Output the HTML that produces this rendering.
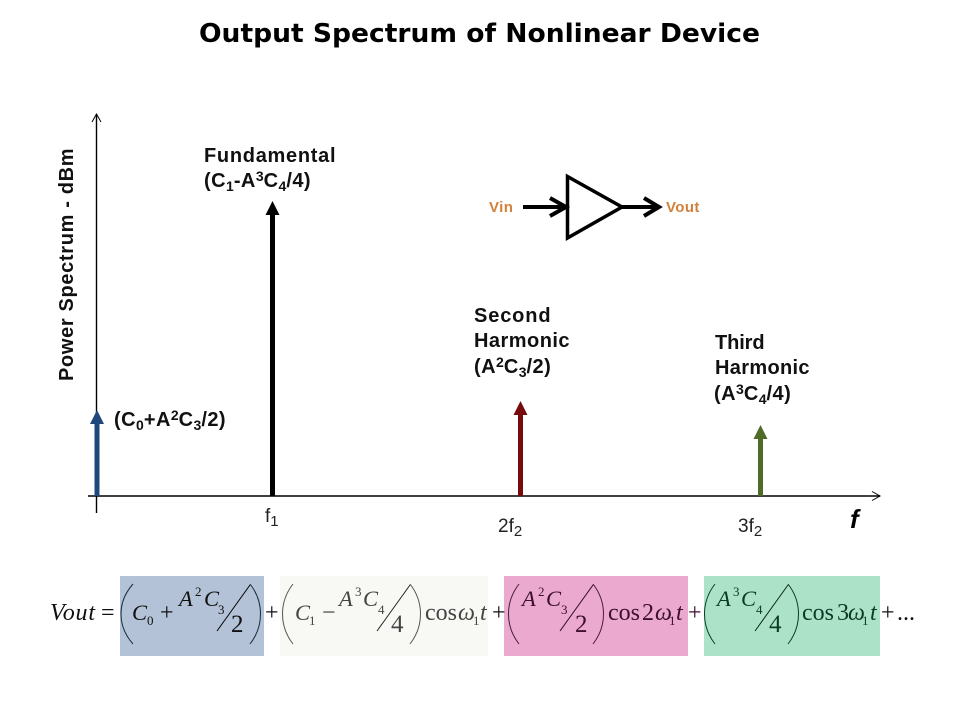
<!DOCTYPE html>
<html>
<head>
<meta charset="utf-8">
<style>
html,body{margin:0;padding:0;background:#fff;width:960px;height:720px;overflow:hidden}
svg{display:block}
.b{font-family:"Liberation Sans",Arial,sans-serif;font-weight:bold;font-size:20px;letter-spacing:.45px;fill:#111}
.b .s{font-size:14px;letter-spacing:0}
.r{font-family:"Liberation Sans",Arial,sans-serif;font-size:19px;fill:#222}
.r .s{font-size:15px}
.m{font-family:"Liberation Serif","Times New Roman",serif;font-size:24px}
.i{font-style:italic}
.n{font-size:22.500px}
.s{font-size:13px}
.d{font-size:25px}
.p{fill:none;stroke-width:1}
</style>
</head>
<body>
<svg width="960" height="720" viewBox="0 0 960 720" xmlns="http://www.w3.org/2000/svg">
<rect width="960" height="720" fill="#fff"/>
<text x="199" y="42" textLength="561" lengthAdjust="spacingAndGlyphs" style="font-family:'DejaVu Sans',Verdana,sans-serif;font-weight:bold;font-size:26px;fill:#000">Output Spectrum of Nonlinear Device</text>

<!-- axes -->
<path d="M96.500 114V513M88 496H880" stroke="#000" stroke-width="1.400" fill="none"/>
<path d="M92 122L96.500 114L101 122M872 491.500L880 496L872 500.500" stroke="#000" stroke-width="1" fill="none"/>

<text transform="translate(73,381) rotate(-90)" class="b" textLength="233" lengthAdjust="spacing">Power Spectrum - dBm</text>

<!-- spectral arrows -->
<rect x="94.500" y="422" width="5" height="74" fill="#1f497d"/>
<polygon points="97,410 104,424 90,424" fill="#1f497d"/>
<rect x="270" y="213" width="5" height="283" fill="#000"/>
<polygon points="272.500,201 279.500,215 265.500,215" fill="#000"/>
<rect x="518" y="413" width="5" height="83" fill="#770b0b"/>
<polygon points="520.500,401 527.500,415 513.500,415" fill="#770b0b"/>
<rect x="758" y="437" width="5" height="59" fill="#4f6b28"/>
<polygon points="760.500,425 767.500,439 753.500,439" fill="#4f6b28"/>

<!-- labels -->
<text x="204" y="162" class="b" textLength="132" lengthAdjust="spacing">Fundamental</text>
<text x="204" y="187" class="b">(C<tspan class="s" dy="4">1</tspan><tspan dy="-4">-A</tspan><tspan class="s" dy="-6">3</tspan><tspan dy="6">C</tspan><tspan class="s" dy="4">4</tspan><tspan dy="-4">/4)</tspan></text>
<text x="114" y="426" class="b">(C<tspan class="s" dy="4">0</tspan><tspan dy="-4">+A</tspan><tspan class="s" dy="-6">2</tspan><tspan dy="6">C</tspan><tspan class="s" dy="4">3</tspan><tspan dy="-4">/2)</tspan></text>
<text x="474" y="322" class="b" textLength="77" lengthAdjust="spacing">Second</text>
<text x="474" y="347" class="b" textLength="96" lengthAdjust="spacing">Harmonic</text>
<text x="474" y="373" class="b">(A<tspan class="s" dy="-6">2</tspan><tspan dy="6">C</tspan><tspan class="s" dy="4">3</tspan><tspan dy="-4">/2)</tspan></text>
<text x="715" y="349" class="b" textLength="50" lengthAdjust="spacing">Third</text>
<text x="715" y="374" class="b" textLength="95" lengthAdjust="spacing">Harmonic</text>
<text x="714" y="400" class="b">(A<tspan class="s" dy="-6">3</tspan><tspan dy="6">C</tspan><tspan class="s" dy="4">4</tspan><tspan dy="-4">/4)</tspan></text>

<text x="265" y="522" class="r">f<tspan class="s" dy="4">1</tspan></text>
<text x="498" y="532" class="r">2f<tspan class="s" dy="4">2</tspan></text>
<text x="738" y="532" class="r">3f<tspan class="s" dy="4">2</tspan></text>
<text x="850" y="528" style="font-family:'Liberation Sans',Arial,sans-serif;font-weight:bold;font-style:italic;font-size:26px;fill:#000">f</text>

<!-- amplifier -->
<polygon points="567.500,176.500 622,207 567.500,238" fill="#fff" stroke="#000" stroke-width="3.500"/>
<path d="M523 207H566M622 207H658" stroke="#000" stroke-width="4" fill="none"/>
<path d="M550 198L566 207L550 216M644 198L659 207L644 216" stroke="#000" stroke-width="4" fill="none"/>
<text x="489" y="212" style="font-family:'Liberation Sans',Arial,sans-serif;font-weight:bold;font-size:15px;letter-spacing:.4px;fill:#d2813c">Vin</text>
<text x="666" y="212" style="font-family:'Liberation Sans',Arial,sans-serif;font-weight:bold;font-size:15px;letter-spacing:.4px;fill:#d2813c">Vout</text>

<!-- equation backgrounds -->
<rect x="120" y="576" width="144" height="80" fill="#b3c2d6"/>
<rect x="280" y="576" width="208" height="80" fill="#f8f8f5"/>
<rect x="504" y="576" width="184" height="80" fill="#eba9cf"/>
<rect x="704" y="576" width="176" height="80" fill="#ace3c8"/>

<!-- parens and slashes -->
<g class="p">
<path d="M133 584C117 602 117 626 133 644" stroke="#1b2b40"/>
<path d="M250 584C264 602 264 626 250 644" stroke="#1b2b40"/>
<path d="M217 631L250 585" stroke="#000"/>
<path d="M293 584C279 602 279 626 293 644" stroke="#555"/>
<path d="M410 584C424 602 424 626 410 644" stroke="#555"/>
<path d="M377 631L410 585" stroke="#222"/>
<path d="M519 584C505 602 505 626 519 644" stroke="#4a1a38"/>
<path d="M593 584C607 602 607 626 593 644" stroke="#4a1a38"/>
<path d="M560 631L593 585" stroke="#2a0a20"/>
<path d="M715 584C701 602 701 626 715 644" stroke="#0d3a26"/>
<path d="M788 584C802 602 802 626 788 644" stroke="#0d3a26"/>
<path d="M755 631L788 585" stroke="#0a2a1a"/>
</g>

<!-- equation text -->
<g class="m" fill="#111">
<text x="50" y="620" class="i" textLength="45" lengthAdjust="spacing">Vout</text>
<text x="101" y="620">=</text>
<text x="132" y="620" class="i n">C</text><text x="147" y="625" class="s">0</text>
<text x="160" y="620">+</text>
<text x="179" y="606" class="i n">A</text><text x="195" y="596" class="s">2</text>
<text x="204" y="606" class="i n">C</text><text x="218" y="614" class="s">3</text>
<text x="231" y="632" class="d">2</text>
<text x="265" y="620">+</text>
</g>
<g class="m" fill="#444">
<text x="295" y="620" class="i n">C</text><text x="309" y="625" class="s">1</text>
<text x="322" y="620">−</text>
<text x="339" y="606" class="i n">A</text><text x="355" y="596" class="s">3</text>
<text x="363" y="606" class="i n">C</text><text x="378" y="614" class="s">4</text>
<text x="391" y="632" class="d">4</text>
<text x="425" y="620">cos</text>
<text x="458" y="620" class="i">ω</text><text x="473" y="625" class="s">1</text>
<text x="480" y="620" class="i">t</text>
</g>
<text x="492" y="620" class="m" fill="#111">+</text>
<g class="m" fill="#3d0f2c">
<text x="522" y="606" class="i n">A</text><text x="538" y="596" class="s">2</text>
<text x="546" y="606" class="i n">C</text><text x="561" y="614" class="s">3</text>
<text x="575" y="632" class="d">2</text>
<text x="608" y="620">cos</text>
<text x="642" y="620">2</text>
<text x="655" y="620" class="i">ω</text><text x="669" y="625" class="s">1</text>
<text x="676" y="620" class="i">t</text>
<text x="688" y="620">+</text>
</g>
<g class="m" fill="#0c3a26">
<text x="717" y="606" class="i n">A</text><text x="733" y="596" class="s">3</text>
<text x="741" y="606" class="i n">C</text><text x="756" y="614" class="s">4</text>
<text x="769" y="632" class="d">4</text>
<text x="802" y="620">cos</text>
<text x="837" y="620">3</text>
<text x="848" y="620" class="i">ω</text><text x="862" y="625" class="s">1</text>
<text x="870" y="620" class="i">t</text>
</g>
<text x="881" y="620" class="m" fill="#111">+</text>
<text x="897" y="620" class="m" fill="#111">...</text>
</svg>
</body>
</html>
